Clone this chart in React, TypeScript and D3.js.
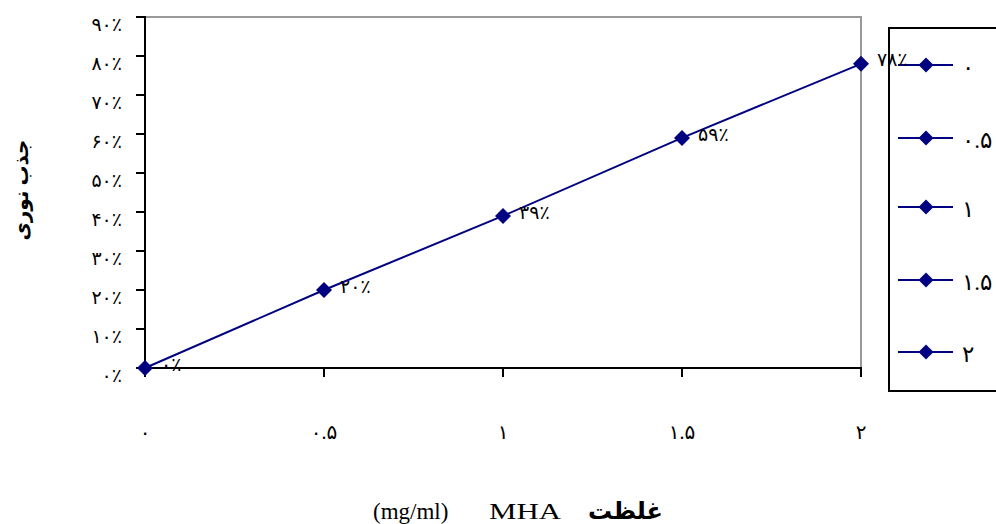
import React from "react";
import * as d3 from "d3";

const categories = ["۰", "۰.۵", "۱", "۱.۵", "۲"];
const xValues = [0, 0.5, 1, 1.5, 2];
const values = [0, 0.2, 0.39, 0.59, 0.78];
const pointLabels = ["۰٪", "۲۰٪", "۳۹٪", "۵۹٪", "۷۸٪"];
const yTicks = [0, 0.1, 0.2, 0.3, 0.4, 0.5, 0.6, 0.7, 0.8, 0.9];
const yTickLabels = ["۰٪", "۱۰٪", "۲۰٪", "۳۰٪", "۴۰٪", "۵۰٪", "۶۰٪", "۷۰٪", "۸۰٪", "۹۰٪"];
const legendLabels = ["۰", "۰.۵", "۱", "۱.۵", "۲"];
const yTitle = "جذب نوری";
const xTitleFa = "غلظت";
const xTitleUnit = "(mg/ml)";
const xTitleName = "MHA";

const W = 996;
const H = 524;
const left = 145;
const right = 861;
const top = 17;
const bottom = 368;
const NAVY = "#000080";
const FONT = "'Liberation Serif', 'DejaVu Sans', serif";

function diamond(cx: number, cy: number, r: number) {
  return `M${cx},${cy - r}L${cx + r},${cy}L${cx},${cy + r}L${cx - r},${cy}Z`;
}

export default function App() {
  const x = d3.scaleLinear().domain([0, 2]).range([left, right]);
  const y = d3.scaleLinear().domain([0, 0.9]).range([bottom, top]);
  const line = d3
    .line<number>()
    .x((_, i) => x(xValues[i]))
    .y((d) => y(d));

  const legendYs = [65, 138, 207, 280, 352];

  return (
    <svg
      width={W}
      height={H}
      style={{ position: "absolute", left: 0, top: 0, background: "#fff" }}
      fontFamily={FONT}
    >
      <rect x={0} y={0} width={W} height={H} fill="#fff" />
      {/* gray plot border top/right */}
      <path d={`M${left},${top}H${right}V${bottom}`} fill="none" stroke="#999" strokeWidth={2} />
      {/* y axis */}
      <line x1={left} y1={top - 1} x2={left} y2={bottom + 9} stroke="#000" strokeWidth={2} />
      {yTicks.map((t, i) => (
        <g key={"yt" + i}>
          <line x1={left - 9} x2={left} y1={y(t)} y2={y(t)} stroke="#000" strokeWidth={2} />
          <text x={122} y={y(t) + 7} dy="0.35em" textAnchor="end" fontSize={19}>
            {yTickLabels[i]}
          </text>
        </g>
      ))}
      {/* x axis */}
      <line x1={left} y1={bottom} x2={right + 1} y2={bottom} stroke="#000" strokeWidth={2} />
      {xValues.map((v, i) => (
        <g key={"xt" + i}>
          <line x1={x(v)} x2={x(v)} y1={bottom} y2={bottom + 9} stroke="#000" strokeWidth={2} />
          <text x={x(v)} y={432} dy="0.35em" textAnchor="middle" fontSize={20}>
            {categories[i]}
          </text>
        </g>
      ))}
      {/* legend */}
      <rect x={889} y={28} width={120} height={363} fill="#fff" stroke="#000" strokeWidth={2} />
      {legendLabels.map((l, i) => (
        <g key={"lg" + i}>
          <line x1={898} x2={953} y1={legendYs[i]} y2={legendYs[i]} stroke={NAVY} strokeWidth={2} />
          <path d={diamond(926, legendYs[i], 7.5)} fill={NAVY} />
          <text x={962} y={legendYs[i] + 2} dy="0.35em" fontSize={23}>
            {l}
          </text>
        </g>
      ))}
      {/* data line */}
      <path d={line(values) || ""} fill="none" stroke={NAVY} strokeWidth={2} />
      {values.map((v, i) => (
        <g key={"pt" + i}>
          <path d={diamond(x(xValues[i]), y(v), 8)} fill={NAVY} />
          <text x={x(xValues[i]) + 16} y={y(v) - 4} dy="0.35em" fontSize={19}>
            {pointLabels[i]}
          </text>
        </g>
      ))}
      {/* y title */}
      <text
        transform={`translate(28,190) rotate(-90)`}
        textAnchor="middle"
        fontSize={20}
        fontWeight="bold"
      >
        {yTitle}
      </text>
      {/* x title */}
      <text x={373} y={519} fontSize={23}>
        {xTitleUnit}
      </text>
      <text x={489} y={519} fontSize={23} textLength={72} lengthAdjust="spacingAndGlyphs">
        {xTitleName}
      </text>
      <text x={663} y={519} fontSize={24} fontWeight="bold" textAnchor="end">
        {xTitleFa}
      </text>
    </svg>
  );
}
